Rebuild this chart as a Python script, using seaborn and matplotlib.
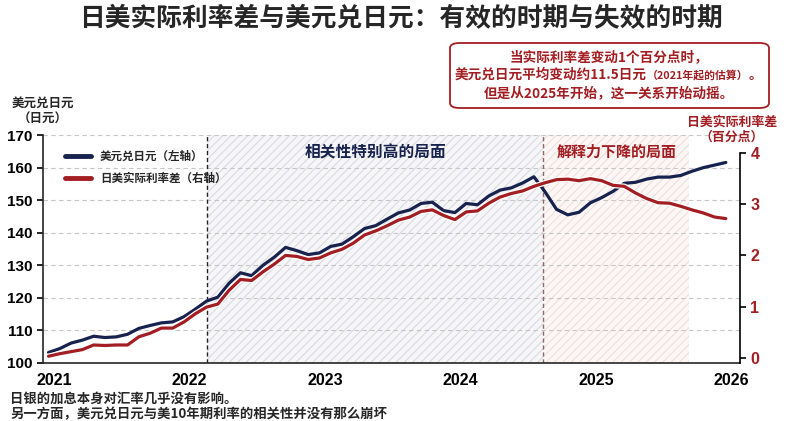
import matplotlib
matplotlib.use('Agg')
import matplotlib.pyplot as plt
import matplotlib.patheffects as pe
from matplotlib.patches import FancyBboxPatch
import seaborn as sns
import numpy as np
import pandas as pd

# Monatswerte Dez 2020 .. Dez 2025
usdjpy = [103.2, 104.4, 106.1, 107.0, 108.2, 107.8, 108.0, 108.8, 110.6, 111.5, 112.3, 112.6,
          114.2, 116.5, 119.0, 120.2, 124.5, 127.7, 126.8, 130.0, 132.5, 135.5, 134.5, 133.3,
          133.8, 135.8, 136.5, 138.8, 141.3, 142.2, 144.2, 146.1, 147.0, 149.0, 149.4, 146.8,
          146.2, 149.0, 148.6, 151.3, 153.1, 153.8, 155.3, 157.2, 152.5, 147.2, 145.5, 146.3,
          149.2, 150.8, 152.7, 155.2, 155.5, 156.5, 157.1, 157.1, 157.6, 158.9, 160.0, 160.8, 161.6]
rate_gap = [0.03, 0.08, 0.12, 0.16, 0.25, 0.24, 0.25, 0.25, 0.41, 0.48, 0.58, 0.58,
            0.70, 0.86, 0.99, 1.05, 1.32, 1.53, 1.51, 1.68, 1.83, 2.00, 1.98, 1.92,
            1.95, 2.05, 2.12, 2.24, 2.40, 2.48, 2.58, 2.69, 2.75, 2.86, 2.89, 2.78,
            2.70, 2.85, 2.87, 3.02, 3.14, 3.21, 3.26, 3.35, 3.42, 3.48, 3.49, 3.46,
            3.50, 3.46, 3.37, 3.35, 3.22, 3.11, 3.03, 3.02, 2.96, 2.89, 2.83, 2.75, 2.72]
start_year = 2020 + 11.5 / 12
years = [2021, 2022, 2023, 2024, 2025, 2026]
high_corr = (2022.13, 2024.61)
weak_fit = (2024.61, 2025.69)

label_usd = '美元兑日元（左轴）'
label_gap = '日美实际利率差（右轴）'

NAVY = '#17224e'
RED = '#a31e22'
NUM_FONT = ['Liberation Sans', 'DejaVu Sans']

t = start_year + np.arange(len(usdjpy)) / 12
df = pd.DataFrame({'t': t, 'usdjpy': usdjpy, 'gap': rate_gap})

sns.set_style('white')
plt.rcParams['font.family'] = ['Noto Sans CJK SC', 'DejaVu Sans']
plt.rcParams['hatch.linewidth'] = 0.7

fig = plt.figure(figsize=(8, 4.21), dpi=100)
ax = fig.add_axes([0.054, 0.138, 0.871, 0.541])
ax2 = ax.twinx()

# Phasen
ax.axvspan(*high_corr, facecolor='#f6f6f8', edgecolor='#d6d7dc', hatch='////', lw=0, zorder=0)
ax.axvspan(*weak_fit, facecolor='#fcf6f5', edgecolor='#ecdcda', hatch='////', lw=0, zorder=0)
ax.axvline(high_corr[0], color='#222222', ls=(0, (3, 2)), lw=1)
ax.axvline(weak_fit[0], color='#8c6a6a', ls=(0, (3, 2)), lw=1)

sns.lineplot(data=df, x='t', y='usdjpy', ax=ax, color=NAVY, lw=2.3, label=label_usd)
sns.lineplot(data=df, x='t', y='gap', ax=ax2, color=RED, lw=2.3, label=label_gap,
             path_effects=[pe.Stroke(linewidth=4.0, foreground='white'), pe.Normal()])

ax.set_xlim(2020.919, 2026.063)
ax.set_ylim(100, 170)
ax2.set_ylim(-0.1, 4.35)
ax.set_xlabel('')
ax.set_ylabel('')
ax2.set_ylabel('')

ax.set_yticks(range(100, 171, 10))
ax.set_xticks(years)
ax.set_xticklabels([str(y) for y in years])
ax2.set_yticks([0, 1, 2, 3, 4])
ax.yaxis.grid(True, ls=(0, (4, 3)), color='#c6c6c6', lw=0.8)
ax.xaxis.grid(False)

ax.tick_params(axis='y', direction='out', length=4, width=1.2, colors='black', labelsize=11)
ax.tick_params(axis='x', direction='out', length=4, width=1.2, colors='black', labelsize=11.5)
ax2.tick_params(axis='y', direction='out', length=4, width=1.2, colors='black',
                labelcolor=RED, labelsize=11.5)
for lbl in ax.get_xticklabels() + ax.get_yticklabels() + ax2.get_yticklabels():
    lbl.set_fontfamily(NUM_FONT)
    lbl.set_fontweight('bold')

for s in ['top', 'right']:
    ax.spines[s].set_visible(False)
for s in ['top', 'left', 'bottom']:
    ax2.spines[s].set_visible(False)
ax.spines['left'].set_linewidth(1.2)
ax.spines['bottom'].set_linewidth(1.2)
ax2.spines['right'].set_linewidth(1.2)
ax2.spines['right'].set_color('black')
ax2.spines['right'].set_bounds(-0.1, 4)

# Legende
h1, l1 = ax.get_legend_handles_labels()
h2, l2 = ax2.get_legend_handles_labels()
ax.get_legend().remove()
leg = ax2.legend(h1 + h2, l1 + l2, loc='upper left', bbox_to_anchor=(0.025, 0.955),
                 frameon=False, handlelength=2.2, labelspacing=0.75,
                 borderaxespad=0, prop={'weight': 'bold', 'size': 8.3})
for ln in leg.get_lines():
    ln.set_linewidth(3.5)

ax.text(np.mean(high_corr), 164.8, '相关性特别高的局面', ha='center', va='center',
        fontsize=11.3, fontweight='bold', color=NAVY)
ax.text(np.mean(weak_fit), 164.8, '解释力下降的局面', ha='center', va='center',
        fontsize=10.8, fontweight='bold', color=RED)

# Titel und Achsentitel
fig.text(0.501, 1 - 18 / 421, '日美实际利率差与美元兑日元：有效的时期与失效的时期',
         ha='center', va='center', fontsize=18.5, fontweight='bold')
fig.text(43 / 800, 1 - 103 / 421, '美元兑日元', ha='center', va='center', fontsize=9, fontweight='bold')
fig.text(43 / 800, 1 - 119 / 421, '（日元）', ha='center', va='center', fontsize=9, fontweight='bold')
fig.text(732 / 800, 1 - 122 / 421, '日美实际利率差', ha='center', va='center', fontsize=9.3,
         fontweight='bold', color=RED)
fig.text(732 / 800, 1 - 137 / 421, '（百分点）', ha='center', va='center', fontsize=9.3,
         fontweight='bold', color=RED)

# Kasten oben rechts
box = FancyBboxPatch((450 / 800, 1 - 108 / 421), 319 / 800, 65 / 421,
                     boxstyle='round,pad=0,rounding_size=0.012', transform=fig.transFigure,
                     ec=RED, fc='white', lw=1.3)
fig.add_artist(box)
fig.text(609 / 800, 1 - 57 / 421, '当实际利率差变动1个百分点时，', ha='center', va='center',
         fontsize=9.8, fontweight='bold', color=RED)
fig.text(609 / 800, 1 - 93 / 421, '但是从2025年开始，这一关系开始动摇。', ha='center', va='center',
         fontsize=9.8, fontweight='bold', color=RED)

# zweite Zeile aus drei Stuecken, nacheinander gesetzt
pieces = [('美元兑日元平均变动约11.5日元', 9.8), ('（2021年起的估算）', 7.8), ('。', 9.8)]
fig.canvas.draw()
renderer = fig.canvas.get_renderer()
x0 = 455
for txt, size in pieces:
    tt = fig.text(x0 / 800, 1 - 75 / 421, txt, ha='left', va='center',
                  fontsize=size, fontweight='bold', color=RED)
    x0 += tt.get_window_extent(renderer).width

# Fussnoten
fig.text(10 / 800, 1 - 399 / 421, '日银的加息本身对汇率几乎没有影响。', ha='left', va='center',
         fontsize=9.6, fontweight='bold')
fig.text(10 / 800, 1 - 414 / 421, '另一方面，美元兑日元与美10年期利率的相关性并没有那么崩坏',
         ha='left', va='center', fontsize=9.6, fontweight='bold')

fig.savefig('out.png', dpi=100)
